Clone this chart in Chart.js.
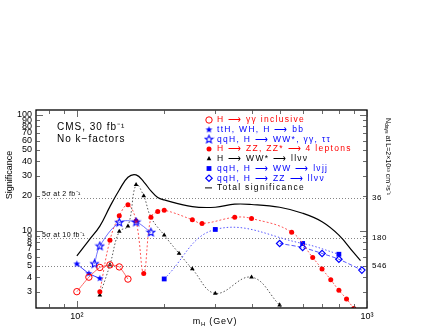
<!DOCTYPE html>
<html>
<head>
<meta charset="utf-8">
<title>Higgs significance</title>
<script src="https://cdn.jsdelivr.net/npm/chart.js"></script>
<style>
  body { margin: 0; background: #fff; }
  #wrap { width: 436px; height: 327px; }
</style>
</head>
<body>
<div id="wrap"><canvas id="sig"></canvas></div>
<script>
// values (mH in GeV, significance for 30 fb-1)
const ggMass = [100, 110, 120, 130, 140, 150];
const ggSig = [3.0, 4.0, 4.85, 5.1, 4.9, 3.85];
const tthMass = [100, 110, 120];
const tthSig = [5.2, 4.3, 3.9];
const qqhMass = [115, 120, 140, 160, 180];
const qqhSig = [5.2, 7.4, 11.8, 11.9, 9.7];
const zzMass = [120, 130, 140, 150, 160, 170, 180, 190, 200, 250, 270, 350, 400, 550, 650, 700, 750, 800, 850, 900];
const zzSig = [3.0, 8.3, 13.5, 16.8, 12.2, 4.3, 13.1, 14.7, 15.1, 12.5, 11.6, 13.1, 12.8, 9.75, 5.9, 4.7, 3.8, 3.08, 2.6, 2.15];
const wwMass = [120, 130, 140, 150, 160, 170, 180, 200, 225, 250, 300, 400, 500];
const wwSig = [2.8, 5.1, 9.9, 11, 25, 20, 13.1, 9.2, 6.4, 4.7, 2.9, 4.0, 2.3];
const lvjjMass = [200, 300, 600, 800];
const lvjjSig = [3.86, 10.3, 7.8, 6.3];
const llvvMass = [500, 600, 700, 800, 960];
const llvvSig = [7.8, 7.2, 6.4, 5.7, 4.6];
const totMass = [100, 110, 120, 130, 140, 150, 160, 170, 180, 190, 200, 250, 300, 350, 400, 500, 600, 700, 800, 900, 950];
const totSig = [6.1, 8.3, 11, 16.2, 22.5, 29, 30.4, 26.5, 22.1, 19.4, 18.5, 16.2, 16.0, 17.0, 16.9, 16.0, 14.2, 12.0, 9.2, 6.5, 5.55];

const legendTexts = ['H \u27F6 \u03B3\u03B3 inclusive', 'ttH, WH, H \u27F6 bb', 'qqH, H \u27F6 WW*, \u03B3\u03B3, \u03C4\u03C4',
  'H \u27F6 ZZ, ZZ* \u27F6 4 leptons', 'H \u27F6 WW* \u27F6 ll\u03BD\u03BD', 'qqH, H \u27F6 WW \u27F6 l\u03BDjj',
  'qqH, H \u27F6 ZZ \u27F6 ll\u03BD\u03BD', 'Total significance'];

const xTicks = [100, 1000];
const xTickLabels = ['10\u00B2', '10\u00B3'];
const yTicks = [3, 4, 5, 6, 7, 8, 9, 10, 20, 30, 40, 50, 60, 70, 80, 90, 100];

// 5 sigma reference levels and the matching right-hand labels
const refLevels = [19.36, 8.66, 5];
const refLeftLabels = ['5\u03C3 at 2 fb\u207B\u00B9', '5\u03C3 at 10 fb\u207B\u00B9', ''];
const refRightLabels = ['36', '180', '546'];

const RED = '#ff0000', BLUE = '#0000ff';
const FONT = '"Liberation Sans", Arial, sans-serif';

function starImg(r, color, filled) {
  const c = document.createElement('canvas');
  const s = Math.ceil(r * 2 + 3);
  c.width = s; c.height = s;
  const g = c.getContext('2d');
  g.beginPath();
  for (let i = 0; i < 10; i++) {
    const a = -Math.PI / 2 + i * Math.PI / 5;
    const rr = i % 2 === 0 ? r : r * 0.45;
    g.lineTo(s / 2 + rr * Math.cos(a), s / 2 + rr * Math.sin(a));
  }
  g.closePath();
  if (filled) { g.fillStyle = color; g.fill(); }
  else { g.strokeStyle = color; g.lineWidth = 1.1; g.stroke(); }
  return c;
}

function pts(m, s) { return m.map((v, i) => ({ x: v, y: s[i] })); }

const datasets = [
  { data: pts(ggMass, ggSig), borderColor: '#ff6666', borderWidth: 1, tension: 0.2,
    pointStyle: 'circle', pointRadius: 3.2, pointBorderColor: RED, pointBackgroundColor: 'rgba(0,0,0,0)', pointBorderWidth: 1, txt: RED },
  { data: pts(tthMass, tthSig), borderColor: BLUE, borderWidth: 0.8, tension: 0.2,
    pointStyle: starImg(3.6, BLUE, true), txt: BLUE },
  { data: pts(qqhMass, qqhSig), borderColor: '#4d4dff', borderWidth: 0.8, tension: 0.35,
    pointStyle: starImg(4, BLUE, false), txt: BLUE },
  { data: pts(zzMass, zzSig), borderColor: '#ff5555', borderWidth: 1, borderDash: [2, 2], tension: 0.4,
    pointStyle: 'circle', pointRadius: 2.5, pointBorderColor: RED, pointBackgroundColor: RED, pointBorderWidth: 0, txt: RED },
  { data: pts(wwMass, wwSig), borderColor: '#555', borderWidth: 1, borderDash: [1.5, 2], tension: 0.4,
    pointStyle: 'triangle', pointRadius: 2.7, pointBorderColor: '#000', pointBackgroundColor: '#000', pointBorderWidth: 0, txt: '#000' },
  { data: pts(lvjjMass, lvjjSig), borderColor: '#5555ff', borderWidth: 1, borderDash: [1.5, 2], tension: 0.4,
    pointStyle: 'rect', pointRadius: 3.4, pointBorderColor: BLUE, pointBackgroundColor: BLUE, pointBorderWidth: 0, txt: BLUE },
  { data: pts(llvvMass, llvvSig), borderColor: '#5555ff', borderWidth: 1, borderDash: [4, 2], tension: 0.3,
    pointStyle: 'rectRot', pointRadius: 3.2, pointBorderColor: BLUE, pointBackgroundColor: 'rgba(0,0,0,0)', pointBorderWidth: 1.2, txt: BLUE },
  { data: pts(totMass, totSig), borderColor: '#000', borderWidth: 1.2, tension: 0.4, pointRadius: 0, txt: '#000' }
];

const decor = {
  id: 'decor',
  beforeDatasetsDraw(chart) {
    const { ctx, chartArea: a, scales: { y } } = chart;
    ctx.save();
    ctx.strokeStyle = '#777';
    ctx.lineWidth = 0.9;
    ctx.setLineDash([1, 2]);
    refLevels.forEach(v => {
      const py = Math.round(y.getPixelForValue(v)) + 0.5;
      ctx.beginPath(); ctx.moveTo(a.left, py); ctx.lineTo(a.right, py); ctx.stroke();
    });
    ctx.setLineDash([]);
    ctx.fillStyle = '#000';
    ctx.font = '7px ' + FONT;
    ctx.letterSpacing = '0.4px';
    ctx.textBaseline = 'alphabetic';
    refLevels.forEach((v, i) => {
      const py = y.getPixelForValue(v);
      if (refLeftLabels[i]) ctx.fillText(refLeftLabels[i], a.left + 6, py - 1.5);
    });
    ctx.restore();
  },
  afterDraw(chart) {
    const { ctx, chartArea: a, scales: { x, y } } = chart;
    ctx.save();
    // frame
    ctx.strokeStyle = '#000';
    ctx.lineWidth = 1.3;
    ctx.strokeRect(a.left, a.top, a.right - a.left, a.bottom - a.top);
    // inward ticks
    ctx.lineWidth = 0.8;
    ctx.strokeStyle = '#444';
    for (let e = 1; e <= 3; e++) {
      for (let k = 1; k <= 9; k++) {
        const v = k * Math.pow(10, e);
        const len = k === 1 ? 7 : 4;
        if (v >= x.min && v <= x.max) {
          const px = Math.round(x.getPixelForValue(v)) + 0.5;
          ctx.beginPath();
          ctx.moveTo(px, a.bottom); ctx.lineTo(px, a.bottom - len);
          ctx.moveTo(px, a.top); ctx.lineTo(px, a.top + len);
          ctx.stroke();
        }
      }
    }
    for (let e = 0; e <= 2; e++) {
      for (let k = 1; k <= 9; k++) {
        const v = k * Math.pow(10, e);
        const len = k === 1 ? 7 : 4;
        if (v >= y.min && v <= y.max) {
          const py = Math.round(y.getPixelForValue(v)) + 0.5;
          ctx.beginPath();
          ctx.moveTo(a.left, py); ctx.lineTo(a.left + len, py);
          ctx.moveTo(a.right, py); ctx.lineTo(a.right - len, py);
          ctx.stroke();
        }
      }
    }
    ctx.fillStyle = '#000';
    ctx.letterSpacing = '0.6px';
    // right-hand labels
    ctx.font = '8px ' + FONT;
    ctx.textBaseline = 'middle';
    refLevels.forEach((v, i) => ctx.fillText(refRightLabels[i], a.right + 5, y.getPixelForValue(v)));
    // CMS text
    ctx.font = '10px ' + FONT;
    ctx.letterSpacing = '1px';
    ctx.textBaseline = 'middle';
    ctx.fillText('CMS, 30 fb\u207B\u00B9', a.left + 21, 127);
    ctx.fillText('No k\u2212factors', a.left + 21, 139);
    ctx.letterSpacing = '0px';
    // y title
    ctx.save();
    ctx.translate(10, 175);
    ctx.rotate(-Math.PI / 2);
    ctx.textAlign = 'center';
    ctx.font = '9px ' + FONT;
    ctx.fillText('Significance', 0, 0);
    ctx.restore();
    // right title
    ctx.save();
    ctx.translate(388, 118);
    ctx.rotate(Math.PI / 2);
    ctx.textAlign = 'left';
    ctx.textBaseline = 'middle';
    ctx.font = '7px ' + FONT;
    ctx.fillText('N', 0, 0);
    let w = ctx.measureText('N').width;
    ctx.font = '5px ' + FONT;
    ctx.fillText('days', w, 2);
    w += ctx.measureText('days').width;
    ctx.font = '7px ' + FONT;
    ctx.fillText(' at L=2\u00D710\u00B3\u00B3 cm\u207B\u00B2s\u207B\u00B9', w, 0);
    ctx.restore();
    // x title
    ctx.letterSpacing = '0.8px';
    ctx.font = '9px ' + FONT;
    ctx.textBaseline = 'alphabetic';
    const t1 = 'm', t2 = 'H', t3 = ' (GeV)';
    const w1 = ctx.measureText(t1).width, w3 = ctx.measureText(t3).width;
    ctx.font = '6px ' + FONT;
    const w2 = ctx.measureText(t2).width;
    let sx = 215 - (w1 + w2 + w3) / 2;
    ctx.font = '9px ' + FONT;
    ctx.fillText(t1, sx, 324);
    ctx.font = '6px ' + FONT;
    ctx.fillText(t2, sx + w1, 326);
    ctx.font = '9px ' + FONT;
    ctx.fillText(t3, sx + w1 + w2, 324);
    // legend
    ctx.font = '8.5px ' + FONT;
    ctx.textBaseline = 'middle';
    chart.data.datasets.forEach((ds, i) => {
      const ly = 120 + i * 9.7;
      ctx.letterSpacing = '0px';
      ctx.strokeStyle = ds.pointBorderColor || ds.borderColor;
      if (i === datasets.length - 1) {
        ctx.lineWidth = 1;
        ctx.beginPath(); ctx.moveTo(205, ly); ctx.lineTo(212, ly); ctx.stroke();
      } else {
        ctx.fillStyle = ds.pointBackgroundColor || ds.txt;
        ctx.lineWidth = ds.pointBorderWidth || 1;
        Chart.helpers.drawPoint(ctx, { pointStyle: ds.pointStyle, radius: ds.pointRadius || 3, rotation: 0, borderWidth: ds.pointBorderWidth || 0 }, 209, ly);
      }
      ctx.fillStyle = ds.txt;
      ctx.letterSpacing = '1.3px';
      ctx.fillText(legendTexts[i], 217, ly);
    });
    ctx.restore();
  }
};

new Chart(document.getElementById('sig'), {
  type: 'line',
  data: { datasets },
  options: {
    responsive: true,
    maintainAspectRatio: false,
    animation: false,
    layout: { padding: { left: 0, top: 110, right: 69, bottom: 0 } },
    plugins: { legend: { display: false }, tooltip: { enabled: false } },
    elements: { point: { hoverRadius: 0 } },
    scales: {
      x: {
        type: 'logarithmic', min: 72.3, max: 1000,
        afterBuildTicks: s => { s.ticks = xTicks.map(v => ({ value: v })); },
        afterFit: s => { s.height = 19; },
        grid: { display: false, drawTicks: false },
        border: { display: false },
        ticks: { autoSkip: false, maxRotation: 0, padding: 3, color: '#000', font: { family: FONT, size: 9 },
          callback: (v, i) => xTickLabels[i] }
      },
      y: {
        type: 'logarithmic', min: 2.17, max: 110,
        afterBuildTicks: s => { s.ticks = yTicks.map(v => ({ value: v })); },
        afterFit: s => { s.width = 36; },
        grid: { display: false, drawTicks: false },
        border: { display: false },
        ticks: { autoSkip: false, padding: 4, color: '#000', font: { family: FONT, size: 9 },
          callback: v => String(v) }
      }
    }
  },
  plugins: [decor]
});
</script>
</body>
</html>
